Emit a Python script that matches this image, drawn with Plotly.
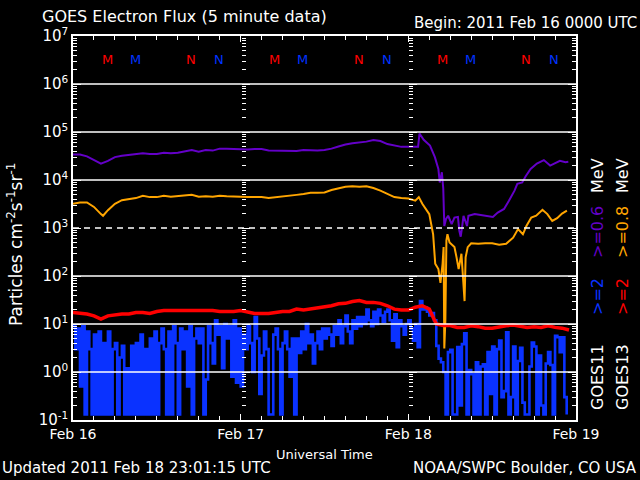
import pandas as pd
import plotly.graph_objects as go

T0 = pd.Timestamp("2011-02-16 00:00")

# ---------------- data (hours since 2011-02-16 00:00 UT, flux values) ----------------
purple_h = [0, 1, 2, 3, 4, 5, 6, 7, 8, 9, 10, 11, 12, 13, 14, 15, 16, 17, 18, 19,
            20, 21, 22, 23, 24, 25, 26, 27, 28, 29, 30, 31, 32, 33, 34, 35, 36, 37, 38, 39,
            40, 41, 42, 43, 44, 45, 46, 47, 48, 49,
            49.4, 49.6, 50.2, 51.1, 51.8, 52.3, 52.5, 52.8, 53.0, 53.15, 53.4, 53.7, 54.2,
            54.6, 55.1, 55.3, 55.5, 55.7, 55.9, 56.4, 56.6, 57.5, 58.9, 60.1, 60.8, 61.7,
            62.4, 63.2, 63.6, 64.3, 64.8, 65.5, 66.4, 67.4, 68.3, 69.0, 69.7, 70.5, 70.9]
purple_v = [3.4e4, 3.4e4, 3.1e4, 2.6e4, 2.2e4, 2.5e4, 3.0e4, 3.2e4, 3.3e4, 3.4e4,
            3.6e4, 3.5e4, 3.5e4, 3.7e4, 3.6e4, 3.7e4, 3.9e4, 4.2e4, 3.9e4, 4.2e4,
            4.1e4, 4.5e4, 4.5e4, 4.4e4, 4.3e4, 4.3e4, 4.4e4, 4.4e4, 4.1e4, 4.1e4,
            4.1e4, 4.0e4, 4.0e4, 4.2e4, 4.1e4, 4.1e4, 4.2e4, 4.5e4, 5.0e4, 5.5e4,
            5.8e4, 6.0e4, 6.3e4, 6.8e4, 6.5e4, 5.6e4, 5.2e4, 4.9e4, 4.9e4, 4.9e4,
            4.9e4, 9.3e4, 6.9e4, 5.2e4, 3.0e4, 1.7e4, 8.9e3, 1.45e4, 6.6e3, 1.1e3, 1.55e3,
            1.8e3, 1.2e3, 1.65e3, 1.7e3, 870, 660, 1.05e3, 1.8e3, 1.1e3, 1.8e3, 1.95e3,
            1.8e3, 1.7e3, 2.1e3, 2.5e3, 3.7e3, 6.0e3, 8.3e3, 8.9e3, 1.2e4, 1.7e4, 2.2e4,
            2.6e4, 2.0e4, 2.2e4, 2.5e4, 2.35e4, 2.4e4]

orange_h = [0, 1, 2, 3, 4, 4.3, 5, 6, 7, 8, 9, 10, 11, 12, 13, 14, 15, 16, 17, 18, 19,
            20, 21, 22, 23, 24, 25, 26, 27, 28, 29, 30, 31, 32, 33, 34, 35, 36, 37, 38, 39,
            40, 41, 42, 43, 44, 45, 46, 47, 48, 49, 49.5, 50, 51,
            51.55, 51.85, 52.3, 52.6, 52.9, 53.05, 53.15, 53.3, 53.45, 53.6, 53.9, 54.1,
            54.6, 54.9, 55.2, 55.6, 55.9, 56.05, 56.2, 56.5, 57, 58, 59, 60, 61, 62, 63,
            63.7, 64.4, 64.9, 65.6, 66.3, 67.2, 67.9, 68.6, 69.3, 70.0, 70.7]
orange_v = [3.2e3, 3.4e3, 3.4e3, 2.75e3, 1.95e3, 1.8e3, 2.35e3, 3.2e3, 3.8e3, 4.0e3, 4.2e3,
            4.7e3, 4.4e3, 4.4e3, 4.7e3, 4.5e3, 4.6e3, 4.8e3, 4.9e3, 4.5e3, 4.6e3,
            4.5e3, 4.7e3, 4.6e3, 4.6e3, 4.5e3, 4.4e3, 4.4e3, 4.4e3, 4.2e3, 4.4e3,
            4.5e3, 4.7e3, 4.9e3, 5.1e3, 5.4e3, 5.4e3, 5.5e3, 6.2e3, 6.8e3, 7.2e3,
            7.4e3, 7.2e3, 7.4e3, 6.8e3, 6.0e3, 5.1e3, 4.4e3, 4.2e3, 4.1e3, 3.7e3, 4.4e3,
            3.2e3, 1.95e3,
            740, 180, 140, 72, 180, 400, 3.1, 12, 550, 740, 500, 470,
            400, 245, 140, 290, 42, 30, 245, 400, 480, 470, 480, 480, 450, 470, 630,
            950, 740, 1.1e3, 1.65e3, 1.8e3, 2.4e3, 1.95e3, 1.4e3, 1.6e3, 2.0e3, 2.3e3]

red_h = [0, 1, 2, 3, 4, 5, 6, 7, 8, 9, 10, 11, 12, 13, 14, 15, 16, 17, 18, 19, 20, 21, 22, 23,
         24, 25, 26, 27, 28, 29, 30, 31, 32, 33, 34, 35, 36, 37, 38, 39, 40, 41, 42, 43, 44, 45,
         46, 47, 48, 49, 50, 51, 52, 53, 54, 55, 56, 57, 58, 59, 60, 61, 62, 63, 64, 65, 66, 67,
         68, 69, 70, 71]
red_v = [17.4, 16.6, 16.2, 14.8, 12.6, 14.8, 15.5, 16.2, 16.2, 17.4, 17.4, 16.6,
         18.2, 19.0, 19.0, 19.0, 19.5, 19.5, 19.5, 19.0, 19.0, 18.2, 18.2, 18.2,
         19.0, 17.4, 16.6, 16.6, 16.6, 17.4, 18.2, 18.2, 20.4, 19.5, 20.4, 21.4,
         22.4, 24.0, 26.3, 26.9, 29.5, 30.9, 28.2, 28.2, 26.9, 24.0, 20.4, 19.5,
         19.5, 22.4, 24.0, 20.4, 10.0, 9.3, 9.3, 8.5, 8.5, 9.2, 8.8, 8.2,
         8.2, 8.8, 9.2, 9.5, 9.0, 8.5, 8.8, 8.5, 9.2, 8.5, 8.2, 7.5]

# GOES11 >=2 MeV, 20-minute samples, one row per hour (:00, :20, :40)
blue_rows = [
    [9, 3, 8], [0.5, 9, 0.13], [7, 3, 0.13], [6, 0.13, 7], [0.13, 4, 0.13], [7, 0.13, 3],
    [4, 0.13, 2], [3.5, 0.13, 1.2], [0.13, 3.5, 0.13], [4, 0.13, 6], [0.13, 3, 0.13],
    [5, 0.13, 7], [0.13, 4, 8], [3, 0.13, 7], [0.13, 9, 4], [0.13, 8, 3], [7, 0.5, 9],
    [0.13, 5, 8], [4, 8, 0.13], [0.7, 9, 4], [1.5, 12, 6], [9, 1.2, 10], [5, 9, 0.8],
    [12, 0.6, 8],
    [0.5, 6, 3], [9, 4, 1.0], [14, 5, 0.35], [2.2, 7, 3], [0.13, 0.13, 6], [8, 3, 0.13],
    [4, 7, 3], [0.8, 5, 0.13], [5, 2.5, 7], [3, 10, 4], [6, 1.5, 4], [7, 3, 8], [5, 8, 6],
    [3.5, 9, 6], [12, 4, 9], [15, 7, 4], [12, 8, 14], [9, 14, 10], [20, 12, 9],
    [18, 10, 20], [15, 11, 18], [20, 12, 4.5], [16, 3.3, 12], [9, 6, 10],
    [12, 8, 4.5], [10, 3.3, 30], [20, 22, 18], [15, 17, 12], [3.5, 1.9, 1.6],
    [1.0, 0.13, 2.6], [2.9, 0.13, 0.13], [3.3, 0.2, 3.8], [6.4, 0.13, 1.1],
    [0.9, 0.13, 1.6], [0.13, 1.3, 1.45], [0.13, 2.6, 0.35], [3.4, 0.13, 3.0],
    [4.5, 0.3, 0.4], [6.7, 0.13, 0.3], [3.4, 0.13, 1.7], [3.2, 0.23, 0.13],
    [0.13, 1.3, 4.1], [3.4, 0.13, 2.2], [0.2, 0.13, 1.5], [2.6, 1.4, 0.13],
    [5.7, 5.3, 2.6], [5.3, 0.3, 0.13],
]
BLUE_STEP_MIN = 20

# local midnight (M) / noon (N) markers
mn_hours = [4.9, 8.9, 16.9, 20.9, 28.9, 32.9, 40.9, 44.9, 52.9, 56.9, 64.9, 68.9]
mn_letters = ["M", "M", "N", "N"] * 3
mn_colors = ["#ff0000", "#0033ff", "#ff0000", "#0033ff"] * 3

decades = [-1, 0, 1, 2, 3, 4, 5, 6, 7]
grid_solid = [0, 1, 2, 4, 5, 6]
grid_dashed = [3]

# ---------------- build ----------------
def to_time(hours):
    return [T0 + pd.Timedelta(hours=h) for h in hours]

blue_v = [v for row in blue_rows for v in row]
blue_t = [T0 + pd.Timedelta(minutes=BLUE_STEP_MIN * i) for i in range(len(blue_v))]

C_PURPLE = "#6400c8"
C_ORANGE = "#ffa500"
C_BLUE = "#0a32ff"
C_RED = "#ff0000"

fig = go.Figure()
fig.add_trace(go.Scatter(x=to_time(orange_h), y=orange_v, mode="lines",
                         line=dict(color=C_ORANGE, width=2)))
fig.add_trace(go.Scatter(x=to_time(purple_h), y=purple_v, mode="lines",
                         line=dict(color=C_PURPLE, width=2)))
fig.add_trace(go.Scatter(x=blue_t, y=blue_v, mode="lines",
                         line=dict(color=C_BLUE, width=2.6, shape="hv")))
fig.add_trace(go.Scatter(x=to_time(red_h), y=red_v, mode="lines",
                         line=dict(color=C_RED, width=3.5)))
# invisible anchors for the day-boundary tick axes
fig.add_trace(go.Scatter(x=[], y=[], yaxis="y2", showlegend=False))
fig.add_trace(go.Scatter(x=[], y=[], yaxis="y3", showlegend=False))

FONT = "DejaVu Sans"
major_vals = [10.0 ** d for d in decades]
major_text = ["10<sup>%d</sup>" % d for d in decades]
minor_vals = [k * 10.0 ** d for d in decades[:-1] for k in range(2, 10)]

yrange = [decades[0], decades[-1]]
xrange_ = [T0, T0 + pd.Timedelta(days=3)]

common_y = dict(type="log", range=yrange, tickmode="array", tickvals=major_vals,
                tickcolor="white", showgrid=False, zeroline=False,
                minor=dict(tickmode="array", tickvals=minor_vals, ticks="inside",
                           ticklen=4, tickcolor="white", showgrid=False))

fig.update_layout(
    width=640, height=480, autosize=False,
    margin=dict(l=73, r=64, t=36, b=60),
    paper_bgcolor="black", plot_bgcolor="black",
    showlegend=False,
    font=dict(family=FONT, color="white"),
    xaxis=dict(type="date", range=xrange_, showgrid=False, zeroline=False,
               tickformat="%b %d", dtick=86400000, tick0=T0,
               ticks="inside", ticklen=6, tickcolor="white",
               showline=True, linecolor="white", linewidth=1.5, mirror="ticks",
               tickfont=dict(size=14, color="white", family=FONT),
               minor=dict(dtick=3 * 3600000, tick0=T0, ticks="inside", ticklen=4,
                          tickcolor="white", showgrid=False)),
    yaxis=dict(**common_y, ticktext=major_text, ticks="inside", ticklen=8,
               showline=True, linecolor="white", linewidth=1.5, mirror="ticks",
               tickfont=dict(size=15, color="white", family=FONT)),
    yaxis2=dict(**common_y, overlaying="y", anchor="free", position=1 / 3, side="left",
                showline=False, showticklabels=False, ticks="inside", ticklen=8),
    yaxis3=dict(**common_y, overlaying="y", anchor="free", position=2 / 3, side="left",
                showline=False, showticklabels=False, ticks="inside", ticklen=8),
)

shapes = []
for d in grid_solid:
    shapes.append(dict(type="line", xref="x domain", x0=0, x1=1, yref="y",
                       y0=10.0 ** d, y1=10.0 ** d, layer="above",
                       line=dict(color="white", width=1.3)))
for d in grid_dashed:
    shapes.append(dict(type="line", xref="x domain", x0=0, x1=1, yref="y",
                       y0=10.0 ** d, y1=10.0 ** d, layer="above",
                       line=dict(color="white", width=1.3, dash="6px,5px")))
fig.update_layout(shapes=shapes)

ann = []
for h, s, c in zip(mn_hours, mn_letters, mn_colors):
    ann.append(dict(x=T0 + pd.Timedelta(hours=h), xref="x", y=0.9635, yref="paper",
                    text=s, showarrow=False, font=dict(size=13, color=c, family=FONT)))

def px_x(p):
    return (p - 73) / 503.0

def px_y(p):
    return (420 - p) / 384.0

ann += [
    dict(x=px_x(40), y=px_y(16), xref="paper", yref="paper", xanchor="left",
         yanchor="middle", text="GOES Electron Flux (5 minute data)", showarrow=False,
         font=dict(size=16, color="white", family=FONT)),
    dict(x=px_x(639), y=px_y(23), xref="paper", yref="paper", xanchor="right",
         yanchor="middle", text="Begin: 2011 Feb 16 0000 UTC", showarrow=False,
         font=dict(size=15, color="white", family=FONT)),
    dict(x=px_x(324), y=px_y(454), xref="paper", yref="paper", xanchor="center",
         yanchor="middle", text="Universal Time", showarrow=False,
         font=dict(size=13, color="white", family=FONT)),
    dict(x=px_x(0), y=px_y(468), xref="paper", yref="paper", xanchor="left",
         yanchor="middle", text="Updated 2011 Feb 18 23:01:15 UTC", showarrow=False,
         font=dict(size=15, color="white", family=FONT)),
    dict(x=px_x(639), y=px_y(468), xref="paper", yref="paper", xanchor="right",
         yanchor="middle", text="NOAA/SWPC Boulder, CO USA", showarrow=False,
         font=dict(size=15, color="white", family=FONT)),
    dict(x=px_x(15), y=px_y(245), xref="paper", yref="paper", xanchor="center",
         yanchor="middle", textangle=-90,
         text="Particles cm<sup>-2</sup>s<sup>-1</sup>sr<sup>-1</sup>", showarrow=False,
         font=dict(size=17, color="white", family=FONT)),
]

legend_items = [
    (597, 377, "GOES11", "white"), (597, 297, "&gt;=2", C_BLUE),
    (597, 232, "&gt;=0.6", C_PURPLE), (597, 176, "MeV", "white"),
    (622, 377, "GOES13", "white"), (622, 297, "&gt;=2", C_RED),
    (622, 232, "&gt;=0.8", C_ORANGE), (622, 176, "MeV", "white"),
]
for xp, yp, t, c in legend_items:
    ann.append(dict(x=px_x(xp), y=px_y(yp), xref="paper", yref="paper",
                    xanchor="center", yanchor="middle", textangle=-90, text=t,
                    showarrow=False, font=dict(size=16, color=c, family=FONT)))

fig.update_layout(annotations=ann)
fig.write_html("out.html")
